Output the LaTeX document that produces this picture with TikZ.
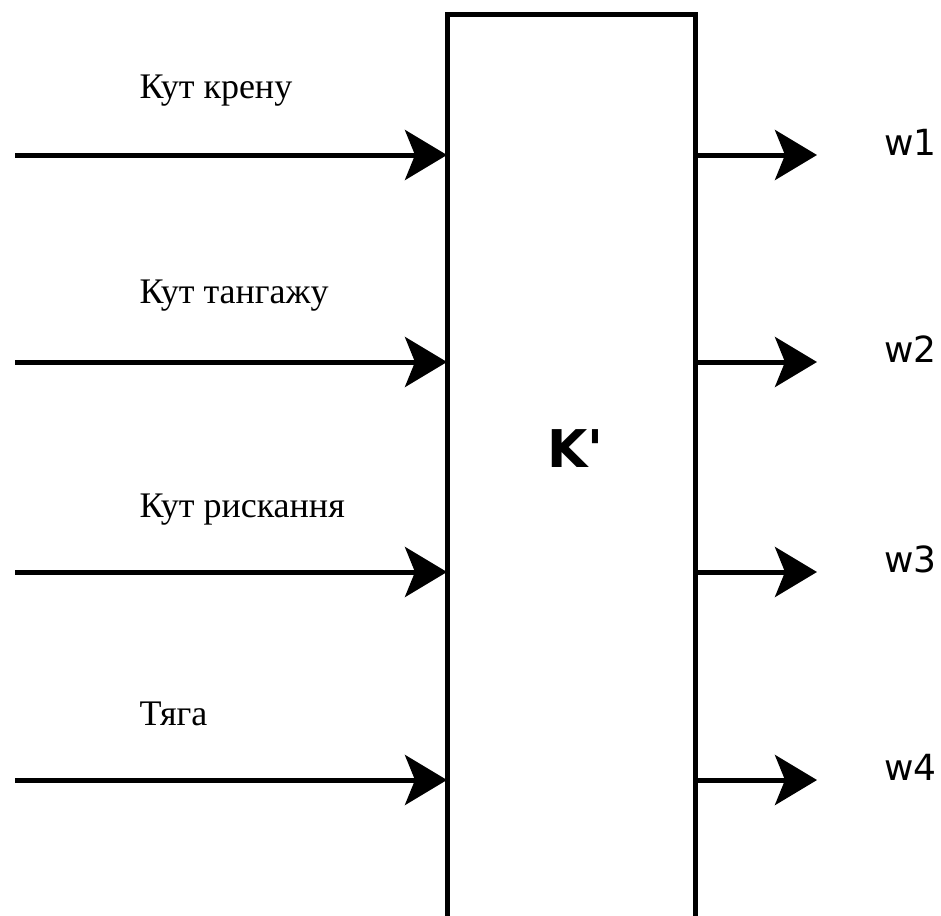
\documentclass[tikz,border=0pt]{standalone}
\usepackage{fontspec}
\setmainfont{Liberation Serif}
\newfontfamily\wfont{DejaVu Sans}
\usetikzlibrary{arrows.meta}
\usetikzlibrary{positioning}

\begin{document}
\begin{tikzpicture}[x=1pt, y=-1pt, line width=5pt,
sig/.style={-{Stealth[length=42pt, width=50pt, inset=10pt]}},
inlbl/.style={anchor=base west, inner sep=0pt, font=\fontsize{36}{40}\selectfont},
outlbl/.style={anchor=base west, inner sep=0pt, font=\wfont\fontsize{36}{40}\selectfont}]
\useasboundingbox (0,0) rectangle (941,915);
\node[draw, outer sep=0pt, inner sep=0pt, minimum width=248pt,
minimum height=960pt, anchor=north west] (K) at (447,15) {};
\node[anchor=base west, inner sep=0pt, font=\wfont\bfseries\fontsize{52}{56}\selectfont]
(Kname) at (545,467) {K'};
\foreach \y/\t/\b [count=\i] in {155/Кут крену/99, 362/Кут тангажу/303,
572/Кут рискання/517, 780/Тяга/725}{
\coordinate (in\i) at (15,\y);
\coordinate (out\i) at (817,\y);
\node[inlbl] (inl\i) at (137,\b) {\t};
\node[outlbl] (outl\i) at (882,\y) {w\i};
\draw[sig] (in\i) -- (in\i -| K.west);
\draw[sig] (K.east |- out\i) -- (out\i);}
\end{tikzpicture}
\end{document}
